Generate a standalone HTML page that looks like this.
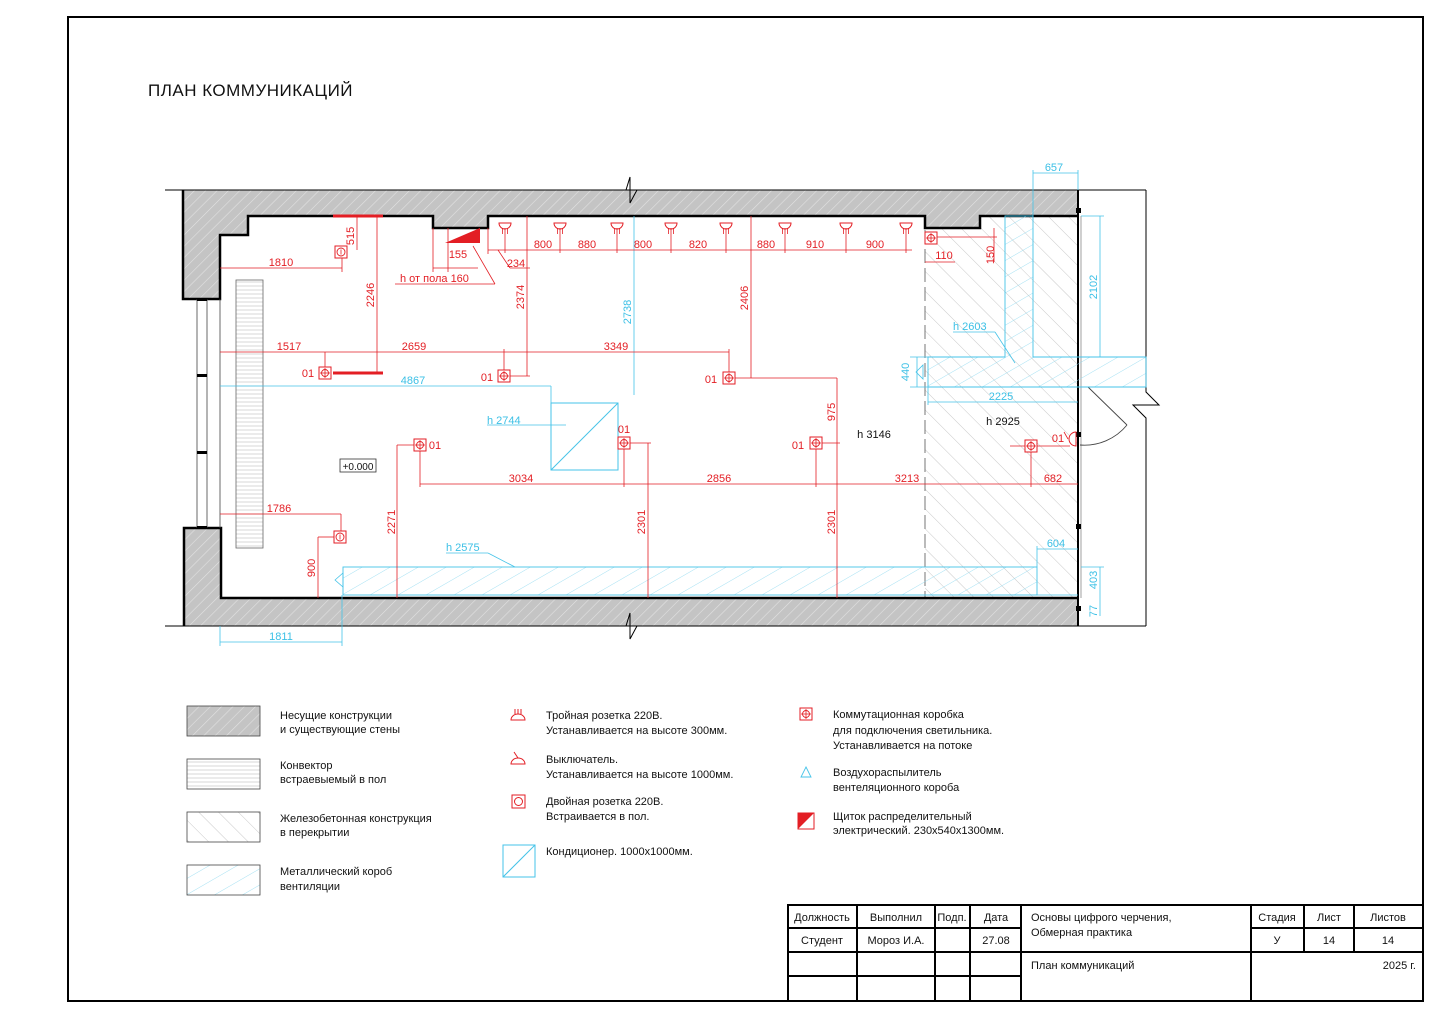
<!DOCTYPE html>
<html><head><meta charset="utf-8"><style>
html,body{margin:0;padding:0;background:#fff}
svg{display:block}
text{font-family:"Liberation Sans","DejaVu Sans",sans-serif}
.r{fill:#e31e24;font-size:11px}
.b{fill:#3cc0e6;font-size:11px}
.k{fill:#111;font-size:11px}
.lg{fill:#111;font-size:11px}
.rl{stroke:#e31e24;stroke-width:0.8;fill:none}
.bl{stroke:#45c3e8;stroke-width:0.8;fill:none}
</style></head><body>
<svg width="1440" height="1018" viewBox="0 0 1440 1018" xmlns="http://www.w3.org/2000/svg">
<defs>
<pattern id="gh" width="8" height="8" patternUnits="userSpaceOnUse" patternTransform="rotate(45)">
<rect width="8" height="8" fill="#c4c4c4"/><line x1="0" y1="0" x2="0" y2="8" stroke="#e2e2e2" stroke-width="1.2"/></pattern>
<pattern id="ch" width="14" height="14" patternUnits="userSpaceOnUse" patternTransform="rotate(-45)">
<line x1="0" y1="0" x2="0" y2="14" stroke="#bbb" stroke-width="0.8"/></pattern>
<pattern id="bh" width="14" height="14" patternUnits="userSpaceOnUse" patternTransform="rotate(60)">
<line x1="0" y1="0" x2="0" y2="14" stroke="#8fdaf0" stroke-width="0.8"/></pattern>
<pattern id="hs" width="4" height="4" patternUnits="userSpaceOnUse">
<line x1="0" y1="2" x2="4" y2="2" stroke="#bbb" stroke-width="0.6"/></pattern>
<g id="jb"><rect x="-6" y="-6" width="12" height="12" fill="#fff" stroke="#e31e24" stroke-width="1"/><circle r="3.5" fill="none" stroke="#e31e24" stroke-width="0.9"/><line x1="-5" y1="0" x2="5" y2="0" stroke="#e31e24" stroke-width="0.8"/><line x1="0" y1="-5" x2="0" y2="5" stroke="#e31e24" stroke-width="0.8"/></g>
<g id="lamp"><path d="M-6,0 A6,6 0 0 0 6,0 Z" fill="#fff" stroke="#e31e24" stroke-width="1"/><line x1="-2.5" y1="5" x2="-2.5" y2="11" stroke="#e31e24" stroke-width="0.8"/><line x1="0" y1="5" x2="0" y2="11" stroke="#e31e24" stroke-width="0.8"/><line x1="2.5" y1="5" x2="2.5" y2="11" stroke="#e31e24" stroke-width="0.8"/></g>
<g id="sk"><rect x="-6" y="-6" width="12" height="12" fill="#fff" stroke="#e31e24" stroke-width="1"/><circle r="4" fill="none" stroke="#e31e24" stroke-width="0.9"/><line x1="0" y1="-2.5" x2="0" y2="2.5" stroke="#e31e24" stroke-width="0.8"/></g>
</defs>

<rect x="68" y="17" width="1355" height="984" fill="none" stroke="#000" stroke-width="2"/>
<text x="148" y="96" style="font-size:17px;fill:#111;letter-spacing:0.5px">ПЛАН КОММУНИКАЦИЙ</text>

<rect x="925" y="216" width="153" height="382" fill="url(#ch)"/>
<line x1="925" y1="230" x2="925" y2="598" stroke="#555" stroke-width="0.8" stroke-dasharray="14,5"/>

<polygon points="183,190 1078,190 1078,216 980,216 980,228 925,228 925,216 488,216 488,228 433,228 433,216 248,216 248,235 220,235 220,299 183,299" fill="url(#gh)" stroke="#000" stroke-width="1"/>
<polyline points="1078,216 980,216 980,228 925,228 925,216 488,216 488,228 433,228 433,216 248,216 248,235 220,235 220,299 183,299 183,190" fill="none" stroke="#000" stroke-width="2.5"/>
<polygon points="184,528 221,528 221,598 1078,598 1078,626 184,626" fill="url(#gh)" stroke="#000" stroke-width="1"/>
<polyline points="184,626 184,528 221,528 221,598 1078,598" fill="none" stroke="#000" stroke-width="2.5"/>
<line x1="165" y1="190" x2="1146" y2="190" stroke="#000" stroke-width="1"/>
<line x1="165" y1="626" x2="1146" y2="626" stroke="#000" stroke-width="1"/>
<polygon points="624,189 638,189 632,182" fill="#fff"/>
<polyline points="618,190 626,190 630,177 630,203 637,190 650,190" fill="none" stroke="#000" stroke-width="1"/>
<polygon points="624,627 638,627 632,634" fill="#fff"/>
<polyline points="618,626 626,626 630,613 630,639 637,626 650,626" fill="none" stroke="#000" stroke-width="1"/>
<line x1="1078" y1="190" x2="1078" y2="626" stroke="#000" stroke-width="2"/>
<line x1="1081" y1="216" x2="1081" y2="598" stroke="#888" stroke-width="0.8"/>
<polyline points="1146,190 1146,392 1159,405 1133,405 1146,418 1146,626" fill="none" stroke="#000" stroke-width="1"/>
<line x1="1088" y1="387" x2="1127" y2="425" stroke="#444" stroke-width="0.9"/>
<path d="M1127,425 A55,55 0 0 1 1080,445" fill="none" stroke="#444" stroke-width="0.9"/>
<rect x="1076" y="208" width="5" height="5" fill="#000"/><rect x="1076" y="432" width="5" height="5" fill="#000"/><rect x="1076" y="524" width="5" height="5" fill="#000"/><rect x="1076" y="606" width="5" height="5" fill="#000"/>

<line x1="197" y1="299" x2="197" y2="528" stroke="#444" stroke-width="0.8"/>
<line x1="207" y1="299" x2="207" y2="528" stroke="#444" stroke-width="0.8"/>
<line x1="220" y1="299" x2="220" y2="528" stroke="#444" stroke-width="0.8"/>
<rect x="197" y="374" width="10" height="3" fill="#000"/><rect x="197" y="451" width="10" height="3" fill="#000"/><rect x="197" y="298" width="10" height="3" fill="#000"/><rect x="197" y="526" width="10" height="3" fill="#000"/>
<rect x="236" y="280" width="27" height="268" fill="url(#hs)" stroke="#666" stroke-width="0.8"/>

<polygon points="1005,216 1033,216 1033,357 1146,357 1146,387 928,387 928,357 1005,357" fill="url(#bh)" stroke="#45c3e8" stroke-width="0.9"/>
<rect x="343" y="567" width="694" height="28" fill="url(#bh)" stroke="#45c3e8" stroke-width="0.9"/>
<line x1="1037" y1="595" x2="1078" y2="595" stroke="#45c3e8" stroke-width="0.8"/>
<polygon points="335,580 343,573 343,587" fill="none" stroke="#45c3e8" stroke-width="0.8"/>
<polygon points="916,372 923,365 923,379" fill="none" stroke="#45c3e8" stroke-width="0.8"/>
<rect x="551" y="403" width="67" height="67" fill="#fff" stroke="#45c3e8" stroke-width="1"/>
<line x1="551" y1="470" x2="618" y2="403" stroke="#45c3e8" stroke-width="1"/>

<g class="bl">
<line x1="1033" y1="173" x2="1078" y2="173"/><line x1="1033" y1="170" x2="1033" y2="216"/><line x1="1078" y1="170" x2="1078" y2="190"/>
<line x1="1100" y1="216" x2="1100" y2="357"/><line x1="1081" y1="216" x2="1104" y2="216"/><line x1="1081" y1="357" x2="1104" y2="357"/>
<line x1="634" y1="216" x2="634" y2="395"/>
<line x1="220" y1="386" x2="551" y2="386"/><line x1="551" y1="386" x2="551" y2="403"/>
<line x1="487" y1="425" x2="566" y2="425"/>
<line x1="953" y1="332" x2="995" y2="332"/><line x1="995" y1="332" x2="1015" y2="363"/>
<line x1="917" y1="357" x2="917" y2="387"/><line x1="910" y1="357" x2="928" y2="357"/><line x1="910" y1="387" x2="928" y2="387"/>
<line x1="928" y1="402" x2="1078" y2="402"/><line x1="928" y1="387" x2="928" y2="405"/>
<line x1="446" y1="553" x2="488" y2="553"/><line x1="488" y1="553" x2="515" y2="567"/>
<line x1="1037" y1="549" x2="1078" y2="549"/><line x1="1037" y1="546" x2="1037" y2="567"/>
<line x1="1100" y1="567" x2="1100" y2="616"/><line x1="1081" y1="567" x2="1104" y2="567"/>
<line x1="220" y1="642" x2="342" y2="642"/><line x1="220" y1="626" x2="220" y2="646"/><line x1="342" y1="595" x2="342" y2="646"/>
</g>
<text class="b" x="1054" y="171" text-anchor="middle">657</text>
<text class="b" transform="translate(1097,287) rotate(-90)" text-anchor="middle">2102</text>
<text class="b" transform="translate(631,312) rotate(-90)" text-anchor="middle">2738</text>
<text class="b" x="413" y="384" text-anchor="middle">4867</text>
<text class="b" x="487" y="424">h 2744</text>
<text class="b" x="953" y="330">h 2603</text>
<text class="b" transform="translate(909,372) rotate(-90)" text-anchor="middle">440</text>
<text class="b" x="1001" y="400" text-anchor="middle">2225</text>
<text class="b" x="446" y="551">h 2575</text>
<text class="b" x="1056" y="547" text-anchor="middle">604</text>
<text class="b" transform="translate(1097,580) rotate(-90)" text-anchor="middle">403</text>
<text class="b" transform="translate(1097,611) rotate(-90)" text-anchor="middle">77</text>
<text class="b" x="281" y="640" text-anchor="middle">1811</text>

<line x1="333" y1="216" x2="383" y2="216" stroke="#e31e24" stroke-width="3"/>
<line x1="333" y1="373" x2="383" y2="373" stroke="#e31e24" stroke-width="3"/>
<polygon points="445,243 480,228 480,243" fill="#e31e24"/>
<g class="rl">
<line x1="357" y1="216" x2="357" y2="250"/>
<line x1="220" y1="268" x2="342" y2="268"/><line x1="342" y1="258" x2="342" y2="272"/>
<line x1="433" y1="228" x2="433" y2="272"/><line x1="448" y1="228" x2="448" y2="272"/><line x1="433" y1="268" x2="478" y2="268"/>
<line x1="395" y1="284" x2="495" y2="284"/><line x1="495" y1="284" x2="473" y2="246"/>
<line x1="488" y1="228" x2="488" y2="254"/><line x1="488" y1="250" x2="912" y2="250"/>
<line x1="498" y1="250" x2="510" y2="268"/><line x1="510" y1="268" x2="530" y2="268"/>
<line x1="505" y1="234" x2="505" y2="253"/><line x1="560" y1="234" x2="560" y2="253"/><line x1="617" y1="234" x2="617" y2="253"/><line x1="671" y1="234" x2="671" y2="253"/><line x1="726" y1="234" x2="726" y2="253"/><line x1="785" y1="234" x2="785" y2="253"/><line x1="846" y1="234" x2="846" y2="253"/><line x1="906" y1="234" x2="906" y2="253"/>
<line x1="377" y1="216" x2="377" y2="373"/>
<line x1="527" y1="216" x2="527" y2="376"/><line x1="504" y1="376" x2="530" y2="376"/>
<line x1="751" y1="216" x2="751" y2="378"/><line x1="729" y1="378" x2="837" y2="378"/>
<line x1="837" y1="378" x2="837" y2="598"/><line x1="816" y1="443" x2="840" y2="443"/>
<line x1="220" y1="352" x2="729" y2="352"/>
<line x1="325" y1="352" x2="325" y2="367"/><line x1="504" y1="349" x2="504" y2="370"/><line x1="729" y1="349" x2="729" y2="372"/>
<line x1="420" y1="484" x2="1078" y2="484"/>
<line x1="420" y1="451" x2="420" y2="487"/><line x1="624" y1="449" x2="624" y2="487"/><line x1="816" y1="449" x2="816" y2="487"/><line x1="1031" y1="452" x2="1031" y2="487"/>
<line x1="220" y1="514" x2="341" y2="514"/><line x1="341" y1="514" x2="341" y2="531"/>
<line x1="397" y1="445" x2="397" y2="598"/><line x1="397" y1="445" x2="414" y2="445"/>
<line x1="648" y1="443" x2="648" y2="598"/><line x1="630" y1="443" x2="651" y2="443"/>
<line x1="318" y1="537" x2="318" y2="598"/><line x1="318" y1="537" x2="334" y2="537"/>
<line x1="937" y1="237" x2="997" y2="237"/><line x1="994" y1="228" x2="994" y2="262"/>
<line x1="925" y1="262" x2="955" y2="262"/>
<line x1="1010" y1="446" x2="1070" y2="446"/>
</g>
<use href="#lamp" x="505" y="223"/><use href="#lamp" x="560" y="223"/><use href="#lamp" x="617" y="223"/><use href="#lamp" x="671" y="223"/><use href="#lamp" x="726" y="223"/><use href="#lamp" x="785" y="223"/><use href="#lamp" x="846" y="223"/><use href="#lamp" x="906" y="223"/>
<use href="#jb" x="325" y="373"/><use href="#jb" x="504" y="376"/><use href="#jb" x="729" y="378"/><use href="#jb" x="420" y="445"/><use href="#jb" x="624" y="443"/><use href="#jb" x="816" y="443"/><use href="#jb" x="1031" y="446"/><use href="#jb" x="931" y="238"/>
<use href="#sk" x="341" y="252"/><use href="#sk" x="340" y="537"/>
<path d="M1076,432 A7,7 0 0 0 1076,446 Z" fill="#fff" stroke="#e31e24" stroke-width="1"/><line x1="1068" y1="439" x2="1064" y2="432" stroke="#e31e24" stroke-width="0.8"/>
<text class="r" transform="translate(354,236) rotate(-90)" text-anchor="middle">515</text>
<text class="r" x="281" y="266" text-anchor="middle">1810</text>
<text class="r" x="458" y="258" text-anchor="middle">155</text>
<text class="r" x="516" y="267" text-anchor="middle">234</text>
<text class="r" x="400" y="282">h от пола 160</text>
<text class="r" transform="translate(374,295) rotate(-90)" text-anchor="middle">2246</text>
<text class="r" transform="translate(524,297) rotate(-90)" text-anchor="middle">2374</text>
<text class="r" transform="translate(748,298) rotate(-90)" text-anchor="middle">2406</text>
<text class="r" transform="translate(835,412) rotate(-90)" text-anchor="middle">975</text>
<text class="r" x="543" y="248" text-anchor="middle">800</text><text class="r" x="587" y="248" text-anchor="middle">880</text><text class="r" x="643" y="248" text-anchor="middle">800</text><text class="r" x="698" y="248" text-anchor="middle">820</text><text class="r" x="766" y="248" text-anchor="middle">880</text><text class="r" x="815" y="248" text-anchor="middle">910</text><text class="r" x="875" y="248" text-anchor="middle">900</text>
<text class="r" x="944" y="259" text-anchor="middle">110</text>
<text class="r" transform="translate(994,255) rotate(-90)" text-anchor="middle">150</text>
<text class="r" x="289" y="350" text-anchor="middle">1517</text><text class="r" x="414" y="350" text-anchor="middle">2659</text><text class="r" x="616" y="350" text-anchor="middle">3349</text>
<text class="r" x="521" y="482" text-anchor="middle">3034</text><text class="r" x="719" y="482" text-anchor="middle">2856</text><text class="r" x="907" y="482" text-anchor="middle">3213</text><text class="r" x="1053" y="482" text-anchor="middle">682</text>
<text class="r" x="279" y="512" text-anchor="middle">1786</text>
<text class="r" transform="translate(395,522) rotate(-90)" text-anchor="middle">2271</text>
<text class="r" transform="translate(645,522) rotate(-90)" text-anchor="middle">2301</text>
<text class="r" transform="translate(835,522) rotate(-90)" text-anchor="middle">2301</text>
<text class="r" transform="translate(315,568) rotate(-90)" text-anchor="middle">900</text>
<text class="r" x="308" y="377" text-anchor="middle">01</text><text class="r" x="487" y="381" text-anchor="middle">01</text><text class="r" x="711" y="383" text-anchor="middle">01</text><text class="r" x="435" y="449" text-anchor="middle">01</text><text class="r" x="624" y="433" text-anchor="middle">01</text><text class="r" x="798" y="449" text-anchor="middle">01</text><text class="r" x="1058" y="442" text-anchor="middle">01</text>
<text class="k" x="874" y="438" text-anchor="middle">h 3146</text>
<text class="k" x="1003" y="425" text-anchor="middle">h 2925</text>
<rect x="340" y="459" width="36" height="13" fill="#fff" stroke="#333" stroke-width="0.8"/>
<text class="k" x="358" y="470" text-anchor="middle" style="font-size:10px">+0.000</text>

<rect x="187" y="706" width="73" height="30" fill="url(#gh)" stroke="#444" stroke-width="0.8"/>
<rect x="187" y="759" width="73" height="30" fill="url(#hs)" stroke="#444" stroke-width="0.8"/>
<rect x="187" y="812" width="73" height="30" fill="url(#ch)" stroke="#444" stroke-width="0.8"/>
<rect x="187" y="865" width="73" height="30" fill="url(#bh)" stroke="#444" stroke-width="0.8"/>
<text class="lg" x="280" y="719">Несущие конструкции</text><text class="lg" x="280" y="733">и существующие стены</text>
<text class="lg" x="280" y="769">Конвектор</text><text class="lg" x="280" y="783">встраевыемый в пол</text>
<text class="lg" x="280" y="822">Железобетонная конструкция</text><text class="lg" x="280" y="836">в перекрытии</text>
<text class="lg" x="280" y="875">Металлический короб</text><text class="lg" x="280" y="890">вентиляции</text>

<g stroke="#e31e24" stroke-width="1" fill="none"><path d="M511,720 A7,6 0 0 1 525,720 Z"/><line x1="515" y1="709" x2="515" y2="714"/><line x1="518" y1="709" x2="518" y2="714"/><line x1="521" y1="709" x2="521" y2="714"/>
<path d="M511,764 A7,6 0 0 1 525,764 Z"/><line x1="518" y1="758" x2="514" y2="752"/>
<rect x="512" y="795" width="13" height="13"/><circle cx="518.5" cy="801.5" r="4"/></g>
<rect x="503" y="845" width="32" height="32" fill="none" stroke="#45c3e8" stroke-width="1"/><line x1="503" y1="877" x2="535" y2="845" stroke="#45c3e8" stroke-width="1"/>
<text class="lg" x="546" y="719">Тройная розетка 220В.</text><text class="lg" x="546" y="734">Устанавливается на высоте 300мм.</text>
<text class="lg" x="546" y="763">Выключатель.</text><text class="lg" x="546" y="778">Устанавливается на высоте 1000мм.</text>
<text class="lg" x="546" y="805">Двойная розетка 220В.</text><text class="lg" x="546" y="820">Встраивается в пол.</text>
<text class="lg" x="546" y="855">Кондиционер. 1000х1000мм.</text>

<use href="#jb" x="806" y="714"/>
<polygon points="806,767 811,777 801,777" fill="none" stroke="#45c3e8" stroke-width="0.9"/>
<rect x="798" y="813" width="16" height="16" fill="#fff" stroke="#e31e24" stroke-width="1"/><polygon points="798,829 814,813 814,829" fill="#e31e24" transform="rotate(180 806 821)"/>
<text class="lg" x="833" y="718">Коммутационная коробка</text><text class="lg" x="833" y="734">для подключения светильника.</text><text class="lg" x="833" y="749">Устанавливается на потоке</text>
<text class="lg" x="833" y="776">Воздухораспылитель</text><text class="lg" x="833" y="791">вентеляционного короба</text>
<text class="lg" x="833" y="820">Щиток распределительный</text><text class="lg" x="833" y="834">электрический. 230х540х1300мм.</text>

<g stroke="#000" stroke-width="2" fill="none">
<rect x="788" y="905" width="635" height="96"/>
<line x1="857" y1="905" x2="857" y2="1001"/><line x1="935" y1="905" x2="935" y2="1001"/><line x1="970" y1="905" x2="970" y2="1001"/><line x1="1021" y1="905" x2="1021" y2="1001"/><line x1="1251" y1="905" x2="1251" y2="1001"/>
<line x1="1304" y1="905" x2="1304" y2="952"/><line x1="1354" y1="905" x2="1354" y2="952"/>
<line x1="788" y1="928" x2="1021" y2="928"/><line x1="1251" y1="928" x2="1423" y2="928"/>
<line x1="788" y1="952" x2="1423" y2="952"/>
<line x1="788" y1="976" x2="1021" y2="976"/>
</g>
<g class="k">
<text x="822" y="921" text-anchor="middle">Должность</text><text x="896" y="921" text-anchor="middle">Выполнил</text><text x="952" y="921" text-anchor="middle">Подп.</text><text x="996" y="921" text-anchor="middle">Дата</text>
<text x="822" y="944" text-anchor="middle">Студент</text><text x="896" y="944" text-anchor="middle">Мороз И.А.</text><text x="996" y="944" text-anchor="middle">27.08</text>
<text x="1031" y="921">Основы цифрого черчения,</text><text x="1031" y="936">Обмерная практика</text>
<text x="1031" y="969">План коммуникаций</text>
<text x="1277" y="921" text-anchor="middle">Стадия</text><text x="1329" y="921" text-anchor="middle">Лист</text><text x="1388" y="921" text-anchor="middle">Листов</text>
<text x="1277" y="944" text-anchor="middle">У</text><text x="1329" y="944" text-anchor="middle">14</text><text x="1388" y="944" text-anchor="middle">14</text>
<text x="1416" y="969" text-anchor="end">2025 г.</text>
</g>
</svg>
</body></html>
